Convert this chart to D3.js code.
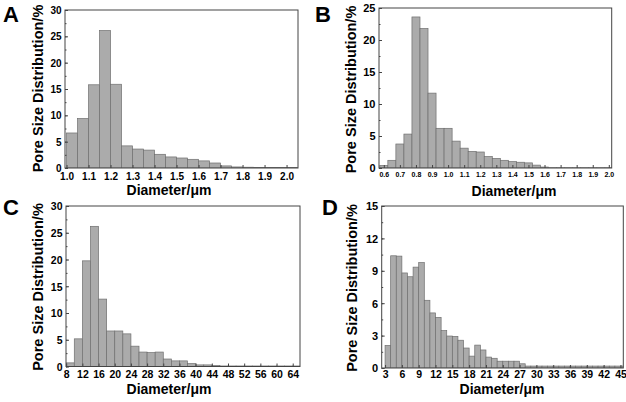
<!DOCTYPE html>
<html>
<head>
<meta charset="utf-8">
<script src="https://cdn.jsdelivr.net/npm/d3@7"></script>
<style>
  body { margin: 0; background: #fff; }
  text { font-family: "Liberation Sans", Arial, sans-serif; font-weight: bold; fill: #000; }
</style>
</head>
<body>
<svg id="chart" width="626" height="402"></svg>
<script>
// ---- panel A : bins 0.05 um wide ----
const binsA = [1.0, 1.05, 1.1, 1.15, 1.2, 1.25, 1.3, 1.35, 1.4, 1.45, 1.5, 1.55, 1.6, 1.65, 1.7, 1.75, 1.8, 1.85, 1.9, 1.95, 2.0];
const valuesA = [6.65, 9.4, 15.8, 26.1, 15.9, 4.2, 3.6, 3.4, 2.6, 2.1, 1.9, 1.65, 1.35, 0.95, 0.4, 0.2, 0.15, 0.1, 0.1, 0.1, 0.1];
const xTicksA = [1.0, 1.1, 1.2, 1.3, 1.4, 1.5, 1.6, 1.7, 1.8, 1.9, 2.0];
const yTicksA = [0, 5, 10, 15, 20, 25, 30];

// ---- panel B : bins 0.05 um wide, centred on ticks ----
const binsB = [0.575, 0.625, 0.675, 0.725, 0.775, 0.825, 0.875, 0.925, 0.975, 1.025, 1.075, 1.125, 1.175, 1.225, 1.275,
  1.325, 1.375, 1.425, 1.475, 1.525, 1.575, 1.625, 1.675, 1.725, 1.775, 1.825, 1.875, 1.925, 1.975];
const valuesB = [0.4, 1.2, 3.75, 5.3, 23.6, 21.8, 11.7, 6.2, 6.2, 4.2, 3.1, 2.6, 2.5, 1.8, 1.5,
  1.2, 1.0, 0.9, 0.8, 0.45, 0.15, 0.05, 0.05, 0.05, 0.05, 0.05, 0.05, 0.05, 0.05];
const xTicksB = [0.6, 0.7, 0.8, 0.9, 1.0, 1.1, 1.2, 1.3, 1.4, 1.5, 1.6, 1.7, 1.8, 1.9, 2.0];
const yTicksB = [0, 5, 10, 15, 20, 25];

// ---- panel C : bins 2 um wide ----
const binsC = [8, 10, 12, 14, 16, 18, 20, 22, 24, 26, 28, 30, 32, 34, 36, 38, 40, 42, 44, 46, 48, 50, 52, 54, 56, 58, 60, 62, 64];
const valuesC = [0.68, 5.17, 19.75, 26.2, 12.6, 6.64, 6.64, 6.1, 3.8, 2.7, 2.6, 2.7, 1.4, 1.05, 1.05, 0.55, 0.3, 0.3, 0.2,
  0.1, 0.1, 0.1, 0.1, 0.1, 0.1, 0.1, 0.1, 0.1, 0.1];
const xTicksC = [8, 12, 16, 20, 24, 28, 32, 36, 40, 44, 48, 52, 56, 60, 64];
const yTicksC = [0, 5, 10, 15, 20, 25, 30];

// ---- panel D : bins 1 um wide ----
const binsD = [3, 4, 5, 6, 7, 8, 9, 10, 11, 12, 13, 14, 15, 16, 17, 18, 19, 20, 21, 22, 23, 24, 25, 26, 27,
  28, 29, 30, 31, 32, 33, 34, 35, 36, 37, 38, 39, 40, 41, 42, 43, 44, 45];
const valuesD = [2.09, 10.39, 10.36, 8.8, 8.45, 9.34, 9.76, 6.27, 5.1, 4.69, 3.46, 2.96, 2.93, 2.57, 1.85, 1.1, 2.12, 1.67, 1.01, 0.9,
  0.63, 0.63, 0.63, 0.63, 0.39, 0.18, 0.18, 0.18, 0.18, 0.18, 0.18, 0.18, 0.18, 0.18, 0.18, 0.18, 0.18, 0.18, 0.18, 0.18, 0.18, 0.18, 0.18];
const xTicksD = [3, 6, 9, 12, 15, 18, 21, 24, 27, 30, 33, 36, 39, 42, 45];
const yTicksD = [0, 3, 6, 9, 12, 15];

const svg = d3.select('#chart');

const panels = [
  { id: 'A', bins: binsA, values: valuesA, binWidth: 0.05, xTicks: xTicksA, yTicks: yTicksA, yMinor: 2.5,
    xDomain: [0.993, 2.052], yMax: 30, left: 65, right: 298, top: 10, bottom: 168,
    xFmt: d3.format('.1f'), xFont: 10, xPad: 5, yFont: 10,
    letter: [3, 22], xTitle: [169, 195], yTitle: [37.5, 88.5] },
  { id: 'B', bins: binsB, values: valuesB, binWidth: 0.05, xTicks: xTicksB, yTicks: yTicksB, yMinor: 2.5,
    xDomain: [0.57, 2.018], yMax: 25, left: 379, right: 611.7, top: 8, bottom: 168,
    xFmt: d3.format('.1f'), xFont: 7, xPad: 4, yFont: 11,
    letter: [315, 22], xTitle: [514, 196], yTitle: [351, 89.5] },
  { id: 'C', bins: binsC, values: valuesC, binWidth: 2, xTicks: xTicksC, yTicks: yTicksC, yMinor: 2.5,
    xDomain: [7.95, 65.8], yMax: 30, left: 66, right: 300, top: 206, bottom: 366.5,
    xFmt: d3.format('d'), xFont: 10.5, xPad: 4, yFont: 10.5,
    letter: [3, 215], xTitle: [169, 394], yTitle: [37.5, 287] },
  { id: 'D', bins: binsD, values: valuesD, binWidth: 1, xTicks: xTicksD, yTicks: yTicksD, yMinor: 1.5,
    xDomain: [2.4, 45.5], yMax: 15, left: 381.7, right: 623.3, top: 206, bottom: 368,
    xFmt: d3.format('d'), xFont: 10.5, xPad: 3, yFont: 11,
    letter: [322, 215], xTitle: [502, 394], yTitle: [352, 288] }
];

function drawPanel(p) {
  const x = d3.scaleLinear().domain(p.xDomain).range([p.left, p.right]);
  const y = d3.scaleLinear().domain([0, p.yMax]).range([p.bottom, p.top]);
  const g = svg.append('g').attr('class', 'panel-' + p.id);

  g.append('clipPath').attr('id', 'clip' + p.id)
    .append('rect')
    .attr('x', p.left).attr('y', p.top)
    .attr('width', p.right - p.left).attr('height', p.bottom - p.top);

  g.append('g').attr('clip-path', `url(#clip${p.id})`)
    .selectAll('rect')
    .data(p.bins.map((b, i) => ({ b, v: p.values[i] })))
    .enter()
    .append('rect')
    .attr('x', d => x(d.b))
    .attr('width', d => x(d.b + p.binWidth) - x(d.b))
    .attr('y', d => y(d.v))
    .attr('height', d => y(0) - y(d.v))
    .attr('fill', '#ababab')
    .attr('stroke', '#6f6f6f')
    .attr('stroke-width', 0.7);

  // minor ticks on the y axis
  const minor = d3.range(0, p.yMax + 0.001, p.yMinor);
  g.append('g')
    .attr('transform', `translate(${p.left},0)`)
    .call(d3.axisLeft(y).tickValues(minor).tickSize(-1.5).tickFormat(''))
    .call(a => a.select('.domain').remove())
    .selectAll('line').attr('stroke', '#444');

  const yAxis = g.append('g')
    .attr('transform', `translate(${p.left},0)`)
    .call(d3.axisLeft(y).tickValues(p.yTicks).tickSize(-3).tickPadding(3.5).tickFormat(d3.format('d')));
  yAxis.select('.domain').remove();
  yAxis.selectAll('line').attr('stroke', '#444');
  yAxis.selectAll('text').style('font-size', p.yFont + 'px').attr('dy', '0.36em');

  const xAxis = g.append('g')
    .attr('transform', `translate(0,${p.bottom})`)
    .call(d3.axisBottom(x).tickValues(p.xTicks).tickSize(-3).tickPadding(p.xPad).tickFormat(p.xFmt));
  xAxis.select('.domain').remove();
  xAxis.selectAll('line').attr('stroke', '#444');
  xAxis.selectAll('text').style('font-size', p.xFont + 'px');

  g.append('rect')
    .attr('x', p.left).attr('y', p.top)
    .attr('width', p.right - p.left).attr('height', p.bottom - p.top)
    .attr('fill', 'none')
    .attr('stroke', '#444')
    .attr('stroke-width', 1);

  g.append('text')
    .attr('x', p.letter[0]).attr('y', p.letter[1])
    .style('font-size', '22px')
    .text(p.id);

  g.append('text')
    .attr('x', p.xTitle[0]).attr('y', p.xTitle[1])
    .attr('text-anchor', 'middle')
    .style('font-size', '14px')
    .text('Diameter/μm');

  g.append('text')
    .attr('transform', `translate(${p.yTitle[0]},${p.yTitle[1]}) rotate(-90)`)
    .attr('text-anchor', 'middle')
    .attr('dy', '0.36em')
    .style('font-size', '14.5px')
    .text('Pore Size Distribution/%');
}

panels.forEach(drawPanel);
</script>
</body>
</html>
